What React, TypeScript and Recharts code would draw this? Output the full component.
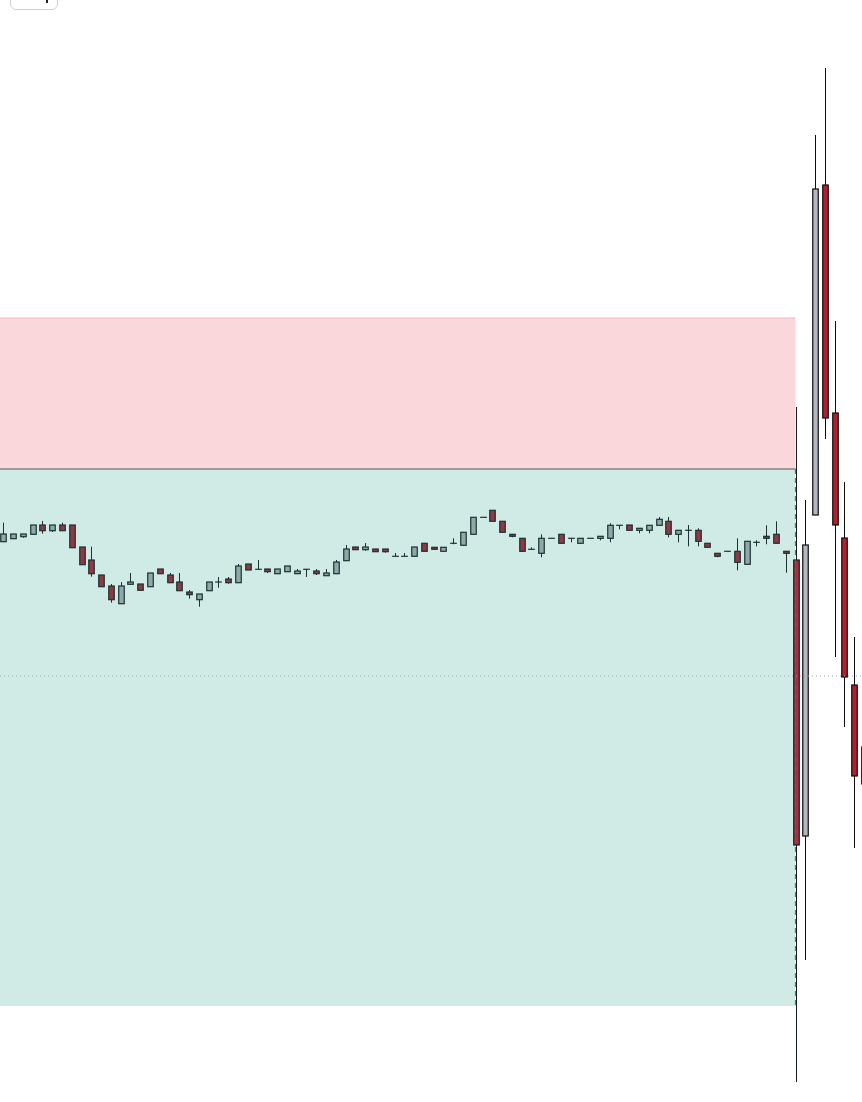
import { Bar, ComposedChart, ReferenceArea, ReferenceLine, XAxis, YAxis } from "recharts";

// OHLC per bar (price units = px from bottom of plot)
const opens = [
  560.3, 563.3, 565.3, 567.7, 577, 571.3, 577, 577, 555, 542,
  527, 516, 498.3, 517.7, 518, 515.3, 533, 527, 520, 510,
  502.3, 511.3, 520, 523, 519.3, 538, 532.7, 533, 528.3, 530.3,
  528.3, 532.7, 531, 526.3, 528.3, 541.3, 555, 552.3, 553, 553,
  545.7, 545.7, 545.7, 558.7, 554.7, 550.7, 558.7, 556.7, 567.7, 584.7,
  591.7, 580.7, 567.7, 563.7, 552.7, 548.7, 563.7, 567.7, 563.7, 558.7,
  563.7, 563.7, 563.7, 576.7, 577, 571.7, 571.7, 576.7, 580.7, 567.7,
  571.7, 571.7, 558.7, 548.7, 550.7, 550.7, 537.7, 559.7, 565.7, 567.7,
  550.7, 542, 266, 587, 917, 689, 564, 417, 355,
];
const highs = [
  579.3, 568, 568, 577, 581, 577, 579.3, 577, 555, 555.3,
  527, 518, 520, 529, 518, 529, 533, 529, 529, 512,
  508, 520, 525, 525, 538, 538, 542, 533, 533, 536,
  533, 532.7, 533, 533, 542, 557, 555, 559, 553, 553,
  549, 549, 555, 558.7, 554.7, 554.7, 563.7, 569.7, 584.7, 584.7,
  591.7, 580.7, 567.7, 563.7, 554.7, 567.7, 563.7, 567.7, 563.7, 563.7,
  563.7, 565.7, 578.7, 576.7, 577, 573.7, 576.7, 585, 585, 571.7,
  577, 573.7, 558.7, 548.7, 550.7, 563.7, 560.7, 561.7, 576.7, 580.7,
  550.7, 695, 602, 967, 1034, 781, 620, 465, 360,
];
const lows = [
  560.3, 563.3, 564.3, 567.7, 568.3, 570, 571.3, 554.3, 537.3, 525.3,
  515.3, 499.3, 498.3, 517.7, 511.7, 515.3, 528.3, 519.3, 511.3, 503.3,
  495.3, 511.3, 514.3, 518.3, 519.3, 532, 532.7, 529, 528.3, 530.3,
  528.3, 525, 527, 526.3, 528.3, 541.3, 552.3, 551.3, 550.3, 549.3,
  545.7, 545.7, 545.7, 550.7, 552.7, 550.7, 557.7, 556.7, 567.7, 584.7,
  580.7, 569.7, 564.7, 550.7, 552.7, 544.7, 563.7, 558.7, 559.7, 558.7,
  563.7, 561.7, 559.7, 572.7, 571.7, 568.7, 568.7, 576.7, 564.7, 559.7,
  555.7, 555.7, 554.7, 544.7, 550.7, 531.7, 537.7, 555.7, 557.7, 558.7,
  529.3, 20, 142, 587, 663, 445, 375, 254, 300,
];
const closes = [
  568, 568, 568, 577, 571.3, 577, 571.3, 554.3, 537.3, 528.3,
  515.3, 502.3, 516, 520, 511.7, 529, 528.3, 519.3, 511.3, 507.3,
  508, 520, 520, 519.3, 536, 532, 532.7, 530.3, 533, 536,
  531, 532.7, 528.3, 529, 540, 553, 552.3, 555, 550.3, 550.3,
  545.7, 545.7, 555, 550.7, 552.7, 554.7, 558.7, 569.7, 584.7, 584.7,
  580.7, 569.7, 565.7, 550.7, 552.7, 563.7, 563.7, 558.7, 563.7, 563.7,
  563.7, 565.7, 576.7, 576.7, 571.7, 573.7, 576.7, 582.7, 567.7, 571.7,
  571.7, 560.7, 554.7, 545.7, 550.7, 539.7, 560.7, 559.7, 563.7, 558.7,
  548.7, 257, 557, 913, 684, 577, 425, 326, 318,
];

// position tool levels
const zoneEnd = 81;
const stopLevel = 784;
const entryLevel = 633;
const targetLevel = 96;
const lastPrice = 426;

const data = opens.map((open, i) => ({
  idx: i,
  open,
  high: highs[i],
  low: lows[i],
  close: closes[i],
  range: [lows[i], highs[i]],
}));

const X_DOMAIN: [number, number] = [-0.327, 87.81];

function Candle(props: any) {
  const { x, y, width, height, payload } = props;
  if (x == null || y == null || !payload) return null;
  const { open, close, high, low, idx } = payload;
  const top = Math.min(y, y + height);
  const h = Math.abs(height);
  const span = high - low;
  const toY = (v: number) => (span > 0 ? top + ((high - v) / span) * h : top);
  const cx = Math.round(x + width / 2) + 0.5;
  const inZone = idx <= zoneEnd;
  const up = close >= open;
  let fill;
  let stroke;
  if (inZone) {
    fill = up ? "#8fa9aa" : idx === zoneEnd ? "#a3343f" : "#8c3a43";
    stroke = idx === zoneEnd ? "#141c1c" : "#1c3131";
  } else {
    fill = up ? "#b4b6c0" : "#b2202f";
    stroke = "#0d0d0d";
  }
  const bTop = toY(Math.max(open, close));
  const bBot = toY(Math.min(open, close));
  const bw = 5.5;
  const flat = bBot - bTop < 1;
  return (
    <g>
      {span > 0 && (
        <line x1={cx} x2={cx} y1={toY(high)} y2={toY(low)} stroke={stroke} strokeWidth={1} />
      )}
      {flat ? (
        <line
          x1={cx - bw / 2 - 0.6}
          x2={cx + bw / 2 + 0.6}
          y1={(bTop + bBot) / 2}
          y2={(bTop + bBot) / 2}
          stroke={stroke}
          strokeWidth={1.2}
        />
      ) : (
        <rect
          x={cx - bw / 2}
          y={bTop}
          width={bw}
          height={bBot - bTop}
          fill={fill}
          stroke={stroke}
          strokeWidth={1.2}
        />
      )}
    </g>
  );
}

export default function App() {
  return (
    <div
      style={{
        position: "absolute",
        left: 0,
        top: 0,
        width: 862,
        height: 1102,
        background: "#ffffff",
        overflow: "hidden",
      }}
    >
      <div
        style={{
          position: "absolute",
          left: 10,
          top: -21,
          width: 46,
          height: 29,
          border: "1px solid #d0d1db",
          borderRadius: 6,
          background: "#fff",
          zIndex: 2,
        }}
      >
        <span
          style={{
            position: "absolute",
            left: 35,
            top: 20,
            width: 2,
            height: 3,
            background: "#222",
          }}
        />
      </div>
      <ComposedChart
        width={862}
        height={1102}
        data={data}
        margin={{ top: 0, right: 0, bottom: 0, left: 0 }}
      >
        <XAxis dataKey="idx" type="number" domain={X_DOMAIN} allowDataOverflow hide />
        <YAxis type="number" domain={[0, 1102]} allowDataOverflow hide />
        <ReferenceArea
          x1={X_DOMAIN[0]}
          x2={zoneEnd}
          y1={entryLevel}
          y2={stopLevel}
          fill="#fad7db"
          fillOpacity={1}
          ifOverflow="hidden"
        />
        <ReferenceArea
          x1={X_DOMAIN[0]}
          x2={zoneEnd}
          y1={targetLevel}
          y2={entryLevel}
          fill="#d0ebe6"
          fillOpacity={1}
          ifOverflow="hidden"
        />
        <ReferenceLine
          segment={[
            { x: X_DOMAIN[0], y: stopLevel },
            { x: zoneEnd, y: stopLevel },
          ]}
          stroke="#f6b8c0"
          strokeWidth={1}
          ifOverflow="hidden"
        />
        <Bar
          dataKey="range"
          barSize={8}
          shape={Candle}
          isAnimationActive={false}
        />
        <ReferenceLine
          segment={[
            { x: X_DOMAIN[0], y: entryLevel },
            { x: zoneEnd, y: entryLevel },
          ]}
          stroke="#7c8686"
          strokeWidth={1.5}
          ifOverflow="hidden"
        />
        <ReferenceLine
          segment={[
            { x: zoneEnd, y: entryLevel },
            { x: zoneEnd, y: targetLevel },
          ]}
          stroke="#4d6b66"
          strokeWidth={1}
          strokeDasharray="5 4"
          ifOverflow="hidden"
        />
        <ReferenceLine
          y={lastPrice}
          stroke="#93aaaa"
          strokeWidth={1}
          strokeDasharray="1 3"
          ifOverflow="hidden"
        />
      </ComposedChart>
    </div>
  );
}
